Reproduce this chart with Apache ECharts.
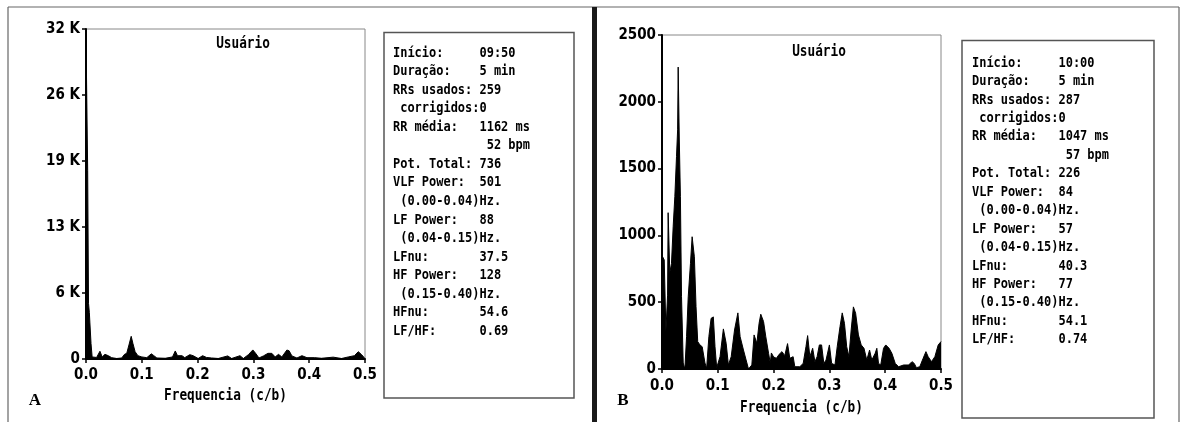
<!DOCTYPE html>
<html>
<head>
<meta charset="utf-8">
<script src="https://cdn.jsdelivr.net/npm/echarts@6/dist/echarts.min.js"></script>
<style>
html,body{margin:0;padding:0;background:#fff;}
#c{width:1181px;height:422px;}
</style>
</head>
<body>
<div id="c"></div>
<script>
// ---------- DATA ----------
var xTickLabels = ["0.0", "0.1", "0.2", "0.3", "0.4", "0.5"];
var yTickLabelsA = ["0", "6 K", "13 K", "19 K", "26 K", "32 K"];
var yTickLabelsB = ["0", "500", "1000", "1500", "2000", "2500"];

var freqA = [0, 0.0025, 0.003, 0.004, 0.0045, 0.006, 0.007, 0.009, 0.011, 0.013,
  0.019, 0.025, 0.029, 0.034, 0.040, 0.046, 0.055, 0.064, 0.069, 0.073,
  0.077, 0.081, 0.084, 0.088, 0.093, 0.100, 0.109, 0.117, 0.121, 0.127,
  0.142, 0.155, 0.160, 0.164, 0.172, 0.177, 0.186, 0.192, 0.201, 0.209,
  0.216, 0.225, 0.237, 0.254, 0.261, 0.276, 0.282, 0.291, 0.299, 0.304,
  0.310, 0.318, 0.326, 0.333, 0.339, 0.345, 0.351, 0.360, 0.364, 0.369,
  0.378, 0.387, 0.396, 0.410, 0.422, 0.443, 0.458, 0.470, 0.481, 0.488,
  0.494, 0.499, 0.500];
var powA = [31200, 31200, 18300, 18300, 5400, 4500, 3500, 1500, 200, 80,
  150, 750, 200, 450, 320, 130, 50, 100, 450, 550,
  1360, 2200, 1520, 710, 320, 200, 130, 500, 350, 100,
  70, 200, 780, 320, 320, 130, 420, 320, 50, 320,
  150, 100, 50, 300, 50, 320, 50, 420, 880, 550,
  100, 300, 550, 550, 200, 450, 200, 870, 800, 300,
  100, 320, 130, 130, 70, 180, 50, 200, 320, 710,
  420, 100, 80];

var freqB = [0, 0.004, 0.007, 0.010, 0.011, 0.014, 0.017, 0.020, 0.023, 0.026,
  0.028, 0.029, 0.031, 0.033, 0.035, 0.038, 0.041, 0.044, 0.047, 0.051,
  0.054, 0.058, 0.061, 0.064, 0.068, 0.072, 0.077, 0.080, 0.084, 0.088,
  0.092, 0.095, 0.098, 0.104, 0.110, 0.115, 0.119, 0.124, 0.130, 0.136,
  0.140, 0.146, 0.155, 0.161, 0.165, 0.170, 0.174, 0.177, 0.182, 0.186,
  0.191, 0.194, 0.196, 0.200, 0.205, 0.210, 0.215, 0.220, 0.225, 0.229,
  0.235, 0.238, 0.247, 0.253, 0.258, 0.261, 0.265, 0.270, 0.274, 0.278,
  0.282, 0.286, 0.290, 0.294, 0.300, 0.304, 0.310, 0.314, 0.319, 0.323,
  0.327, 0.331, 0.335, 0.339, 0.343, 0.347, 0.352, 0.357, 0.362, 0.367,
  0.372, 0.376, 0.382, 0.385, 0.388, 0.392, 0.397, 0.401, 0.407, 0.412,
  0.418, 0.424, 0.433, 0.442, 0.448, 0.452, 0.456, 0.462, 0.468, 0.473,
  0.477, 0.483, 0.489, 0.495, 0.500];
var powB = [850, 816, 280, 553, 1170, 720, 790, 1065, 1290, 1590,
  1790, 2260, 1714, 1290, 541, 45, 0, 242, 541, 790,
  990, 840, 466, 205, 180, 167, 45, 5, 242, 379,
  390, 167, 10, 92, 300, 192, 30, 92, 292, 420,
  242, 142, 0, 30, 255, 192, 342, 410, 355, 242,
  117, 45, 120, 90, 80, 110, 130, 100, 190, 80,
  92, 17, 17, 42, 167, 250, 92, 155, 55, 92,
  180, 180, 42, 67, 180, 42, 30, 167, 317, 420,
  342, 167, 92, 292, 465, 417, 255, 180, 155, 67,
  142, 67, 117, 155, 42, 30, 155, 180, 155, 117,
  42, 17, 30, 30, 55, 42, 10, 17, 80, 130,
  92, 55, 92, 180, 205];

var infoLabels = ["Início:", "Duração:", "RRs usados:", " corrigidos:", "RR média:", "",
  "Pot. Total:", "VLF Power:", " (0.00-0.04)Hz.", "LF Power:", " (0.04-0.15)Hz.",
  "LFnu:", "HF Power:", " (0.15-0.40)Hz.", "HFnu:", "LF/HF:"];
var infoValuesA = ["09:50", "5 min", "259", "0", "1162 ms", " 52 bpm",
  "736", "501", "", "88", "", "37.5", "128", "", "54.6", "0.69"];
var infoValuesB = ["10:00", "5 min", "287", "0", "1047 ms", " 57 bpm",
  "226", "84", "", "57", "", "40.3", "77", "", "54.1", "0.74"];

var plotTitle = "Usuário";
var xName = "Frequencia (c/b)";

// ---------- FONTS ----------
var MONO = "'DejaVu Sans Mono', 'Liberation Mono', monospace";
var AXFONT = "'DejaVu Sans Condensed', " + MONO;
var AXSIZE = 15;

// ---------- CHART ----------
var chart = echarts.init(document.getElementById('c'), null, {renderer: 'canvas'});

function xAxisCfg(gi, margin) {
  return {
    gridIndex: gi, type: 'value', min: 0, max: 0.5, interval: 0.1,
    axisLine: {show: true, onZero: false, lineStyle: {color: '#000', width: 2}},
    axisTick: {show: true, length: 4, lineStyle: {color: '#000', width: 1.5}},
    splitLine: {show: false},
    axisLabel: {
      margin: margin, color: '#000', fontFamily: AXFONT, fontWeight: 'bold', fontSize: AXSIZE,
      formatter: function (v) { return xTickLabels[Math.round(v * 10)]; }
    }
  };
}
function yAxisCfg(gi, max, labels) {
  var step = max / 5;
  return {
    gridIndex: gi, type: 'value', min: 0, max: max, interval: step,
    axisLine: {show: true, onZero: false, lineStyle: {color: '#000', width: 2}},
    axisTick: {show: true, length: 4, lineStyle: {color: '#000', width: 1.5}},
    splitLine: {show: false},
    axisLabel: {
      margin: 6, color: '#000', fontFamily: AXFONT, fontWeight: 'bold', fontSize: AXSIZE,
      formatter: function (v) { return labels[Math.round(v / step)]; }
    }
  };
}
function areaSeries(gi, fx, py) {
  return {
    type: 'line', xAxisIndex: gi, yAxisIndex: gi,
    data: fx.map(function (f, i) { return [f, py[i]]; }),
    symbol: 'none', showSymbol: false, smooth: false, silent: true,
    lineStyle: {color: '#000', width: 1},
    areaStyle: {color: '#000', opacity: 1},
    animation: false
  };
}

var graphics = [];
function line(x1, y1, x2, y2, w, c) {
  graphics.push({type: 'line', silent: true, z: 10,
    shape: {x1: x1, y1: y1, x2: x2, y2: y2},
    style: {stroke: c, lineWidth: w}});
}
function rect(x, y, w, h, lw, c) {
  graphics.push({type: 'rect', silent: true, z: 10,
    shape: {x: x, y: y, width: w, height: h},
    style: {fill: 'none', stroke: c, lineWidth: lw}});
}
function text(t, x, y, font, align, sx) {
  graphics.push({type: 'text', silent: true, z: 20, x: x, y: y, scaleX: sx || 1,
    style: {text: t, x: 0, y: 0, font: font, fill: '#000', align: align || 'left', verticalAlign: 'middle'}});
}

// outer frames
line(8, 7, 1179, 7, 1.2, '#666');
line(8, 7, 8, 422, 1.2, '#666');
line(1179, 7, 1179, 422, 1.2, '#666');
line(594.5, 7, 594.5, 422, 5, '#1a1a1a');

// info boxes
rect(384, 32.5, 190, 365.5, 1.5, '#555');
rect(962, 40.5, 192, 377.5, 1.5, '#555');

function infoText(x0, y0, dy, values) {
  for (var i = 0; i < infoLabels.length; i++) {
    var lab = infoLabels[i];
    var s = values[i] === '' ? lab : (lab + '            ').slice(0, 12) + values[i];
    text(s, x0, y0 + i * dy, "bold 14px " + MONO, 'left', 0.855);
  }
}
infoText(393, 53, 18.55, infoValuesA);
infoText(972, 63, 18.45, infoValuesB);

// plot titles
text(plotTitle, 243, 44, "bold 15px " + MONO, 'center', 0.85);
text(plotTitle, 819, 52, "bold 15px " + MONO, 'center', 0.85);

// x axis names
text(xName, 225.5, 396, "bold 15px " + MONO, 'center', 0.85);
text(xName, 801.5, 408, "bold 15px " + MONO, 'center', 0.85);

// panel letters
text("A", 35, 401, "bold 17px 'Liberation Serif', serif", 'center');
text("B", 623, 401, "bold 17px 'Liberation Serif', serif", 'center');

var option = {
  backgroundColor: '#fff',
  animation: false,
  grid: [
    {left: 86, top: 29, width: 279, height: 330, show: true, borderColor: '#888', borderWidth: 1, backgroundColor: 'transparent'},
    {left: 662, top: 35, width: 279, height: 334, show: true, borderColor: '#888', borderWidth: 1, backgroundColor: 'transparent'}
  ],
  xAxis: [xAxisCfg(0, 9), xAxisCfg(1, 10)],
  yAxis: [yAxisCfg(0, 32000, yTickLabelsA), yAxisCfg(1, 2500, yTickLabelsB)],
  series: [areaSeries(0, freqA, powA), areaSeries(1, freqB, powB)],
  graphic: graphics
};
chart.setOption(option);
</script>
</body>
</html>
